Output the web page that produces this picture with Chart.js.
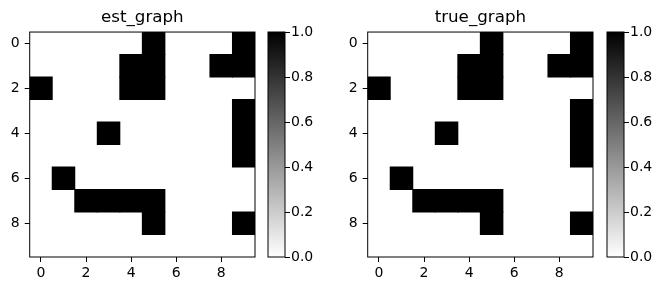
<!DOCTYPE html>
<html>
<head>
<meta charset="utf-8">
<script src="https://cdn.jsdelivr.net/npm/chart.js@4.4.0/dist/chart.umd.min.js"></script>
<style>
  body { margin: 0; background: #fff; }
  #wrap { position: relative; width: 659px; height: 291px; }
  canvas { position: absolute; top: 0; }
</style>
</head>
<body>
<div id="wrap">
  <canvas id="estChart" width="260" height="291" style="left:0px"></canvas>
  <canvas id="estBar" width="68" height="291" style="left:262px"></canvas>
  <canvas id="trueChart" width="260" height="291" style="left:338px"></canvas>
  <canvas id="trueBar" width="58" height="291" style="left:600.7px"></canvas>
</div>
<script>
// etiquetas de columnas / filas
const columnas = ['0', '1', '2', '3', '4', '5', '6', '7', '8', '9'];
const filas = [0, 1, 2, 3, 4, 5, 6, 7, 8, 9];
const ticksEjes = [0, 2, 4, 6, 8];
const ticksBarra = [0, 0.2, 0.4, 0.6, 0.8, 1.0];

const estGraph = [
  [0, 0, 0, 0, 0, 1, 0, 0, 0, 1],
  [0, 0, 0, 0, 1, 1, 0, 0, 1, 1],
  [1, 0, 0, 0, 1, 1, 0, 0, 0, 0],
  [0, 0, 0, 0, 0, 0, 0, 0, 0, 1],
  [0, 0, 0, 1, 0, 0, 0, 0, 0, 1],
  [0, 0, 0, 0, 0, 0, 0, 0, 0, 1],
  [0, 1, 0, 0, 0, 0, 0, 0, 0, 0],
  [0, 0, 1, 1, 1, 1, 0, 0, 0, 0],
  [0, 0, 0, 0, 0, 1, 0, 0, 0, 1],
  [0, 0, 0, 0, 0, 0, 0, 0, 0, 0]
];

const trueGraph = [
  [0, 0, 0, 0, 0, 1, 0, 0, 0, 1],
  [0, 0, 0, 0, 1, 1, 0, 0, 1, 1],
  [1, 0, 0, 0, 1, 1, 0, 0, 0, 0],
  [0, 0, 0, 0, 0, 0, 0, 0, 0, 1],
  [0, 0, 0, 1, 0, 0, 0, 0, 0, 1],
  [0, 0, 0, 0, 0, 0, 0, 0, 0, 1],
  [0, 1, 0, 0, 0, 0, 0, 0, 0, 0],
  [0, 0, 1, 1, 1, 1, 0, 0, 0, 0],
  [0, 0, 0, 0, 0, 1, 0, 0, 0, 1],
  [0, 0, 0, 0, 0, 0, 0, 0, 0, 0]
];

Chart.defaults.font.family = 'DejaVu Sans';
Chart.defaults.font.size = 14;
Chart.defaults.color = '#000';

// marco negro alrededor del area del grafico
const marco = {
  id: 'marco',
  afterDraw(chart) {
    const { ctx, chartArea: a } = chart;
    ctx.save();
    ctx.strokeStyle = '#000';
    ctx.lineWidth = 1;
    ctx.strokeRect(a.left, a.top, a.right - a.left, a.bottom - a.top);
    ctx.restore();
  }
};

function colorTick(ctx) {
  return ticksEjes.includes(ctx.index) ? '#000' : 'rgba(0,0,0,0)';
}

function crearMapa(id, titulo, matriz) {
  // un dataset por fila, cada celda negra es una barra flotante
  const datasets = filas.map(r => ({
    data: columnas.map((c, i) => matriz[r][i] ? [r - 0.5, r + 0.5] : null),
    backgroundColor: '#000',
    borderWidth: 0,
    grouped: false,
    barPercentage: 1,
    categoryPercentage: 1,
    inflateAmount: 0.5
  }));

  return new Chart(document.getElementById(id), {
    type: 'bar',
    data: { labels: columnas, datasets: datasets },
    options: {
      responsive: false,
      animation: false,
      layout: { padding: { left: 0, right: 5, top: 0, bottom: 0 } },
      plugins: {
        legend: { display: false },
        tooltip: { enabled: false },
        title: {
          display: true,
          text: titulo,
          fullSize: false,
          color: '#000',
          font: { size: 16.7, weight: 'normal' },
          padding: { top: 8, bottom: 4 }
        }
      },
      scales: {
        x: {
          type: 'category',
          offset: true,
          grid: { offset: false, drawOnChartArea: false, tickLength: 5, color: colorTick },
          border: { display: false },
          ticks: {
            autoSkip: false,
            maxRotation: 0,
            padding: 3,
            callback: (v, i) => ticksEjes.includes(i) ? columnas[i] : ''
          },
          afterFit: s => { s.height = 34; }
        },
        y: {
          type: 'linear',
          reverse: true,
          min: -0.5,
          max: 9.5,
          grid: { drawOnChartArea: false, tickLength: 5, color: '#000' },
          border: { display: false },
          afterBuildTicks: s => { s.ticks = ticksEjes.map(v => ({ value: v })); },
          ticks: { padding: 5, callback: v => String(v) },
          afterFit: s => { s.width = 29.7; }
        }
      }
    },
    plugins: [marco]
  });
}

function crearBarra(id, anchoEje) {
  return new Chart(document.getElementById(id), {
    type: 'bar',
    data: {
      labels: [''],
      datasets: [{
        data: [[0, 1]],
        borderWidth: 0,
        barPercentage: 1,
        categoryPercentage: 1,
        backgroundColor: ctx => {
          const a = ctx.chart.chartArea;
          if (!a) return '#888';
          const g = ctx.chart.ctx.createLinearGradient(0, a.bottom, 0, a.top);
          g.addColorStop(0, '#fff');
          g.addColorStop(1, '#000');
          return g;
        }
      }]
    },
    options: {
      responsive: false,
      animation: false,
      layout: { padding: { left: 6, right: 0, top: 32, bottom: 34 } },
      plugins: { legend: { display: false }, tooltip: { enabled: false } },
      scales: {
        x: { display: false },
        y: {
          position: 'right',
          min: 0,
          max: 1,
          grid: { drawOnChartArea: false, tickLength: 5, color: '#000' },
          border: { display: false },
          afterBuildTicks: s => { s.ticks = ticksBarra.map(v => ({ value: v })); },
          ticks: { padding: 1, callback: v => v.toFixed(1) },
          afterFit: s => { s.width = anchoEje; }
        }
      }
    },
    plugins: [marco]
  });
}

crearMapa('estChart', 'est_graph', estGraph);
crearBarra('estBar', 45);
crearMapa('trueChart', 'true_graph', trueGraph);
crearBarra('trueBar', 35);
</script>
</body>
</html>
